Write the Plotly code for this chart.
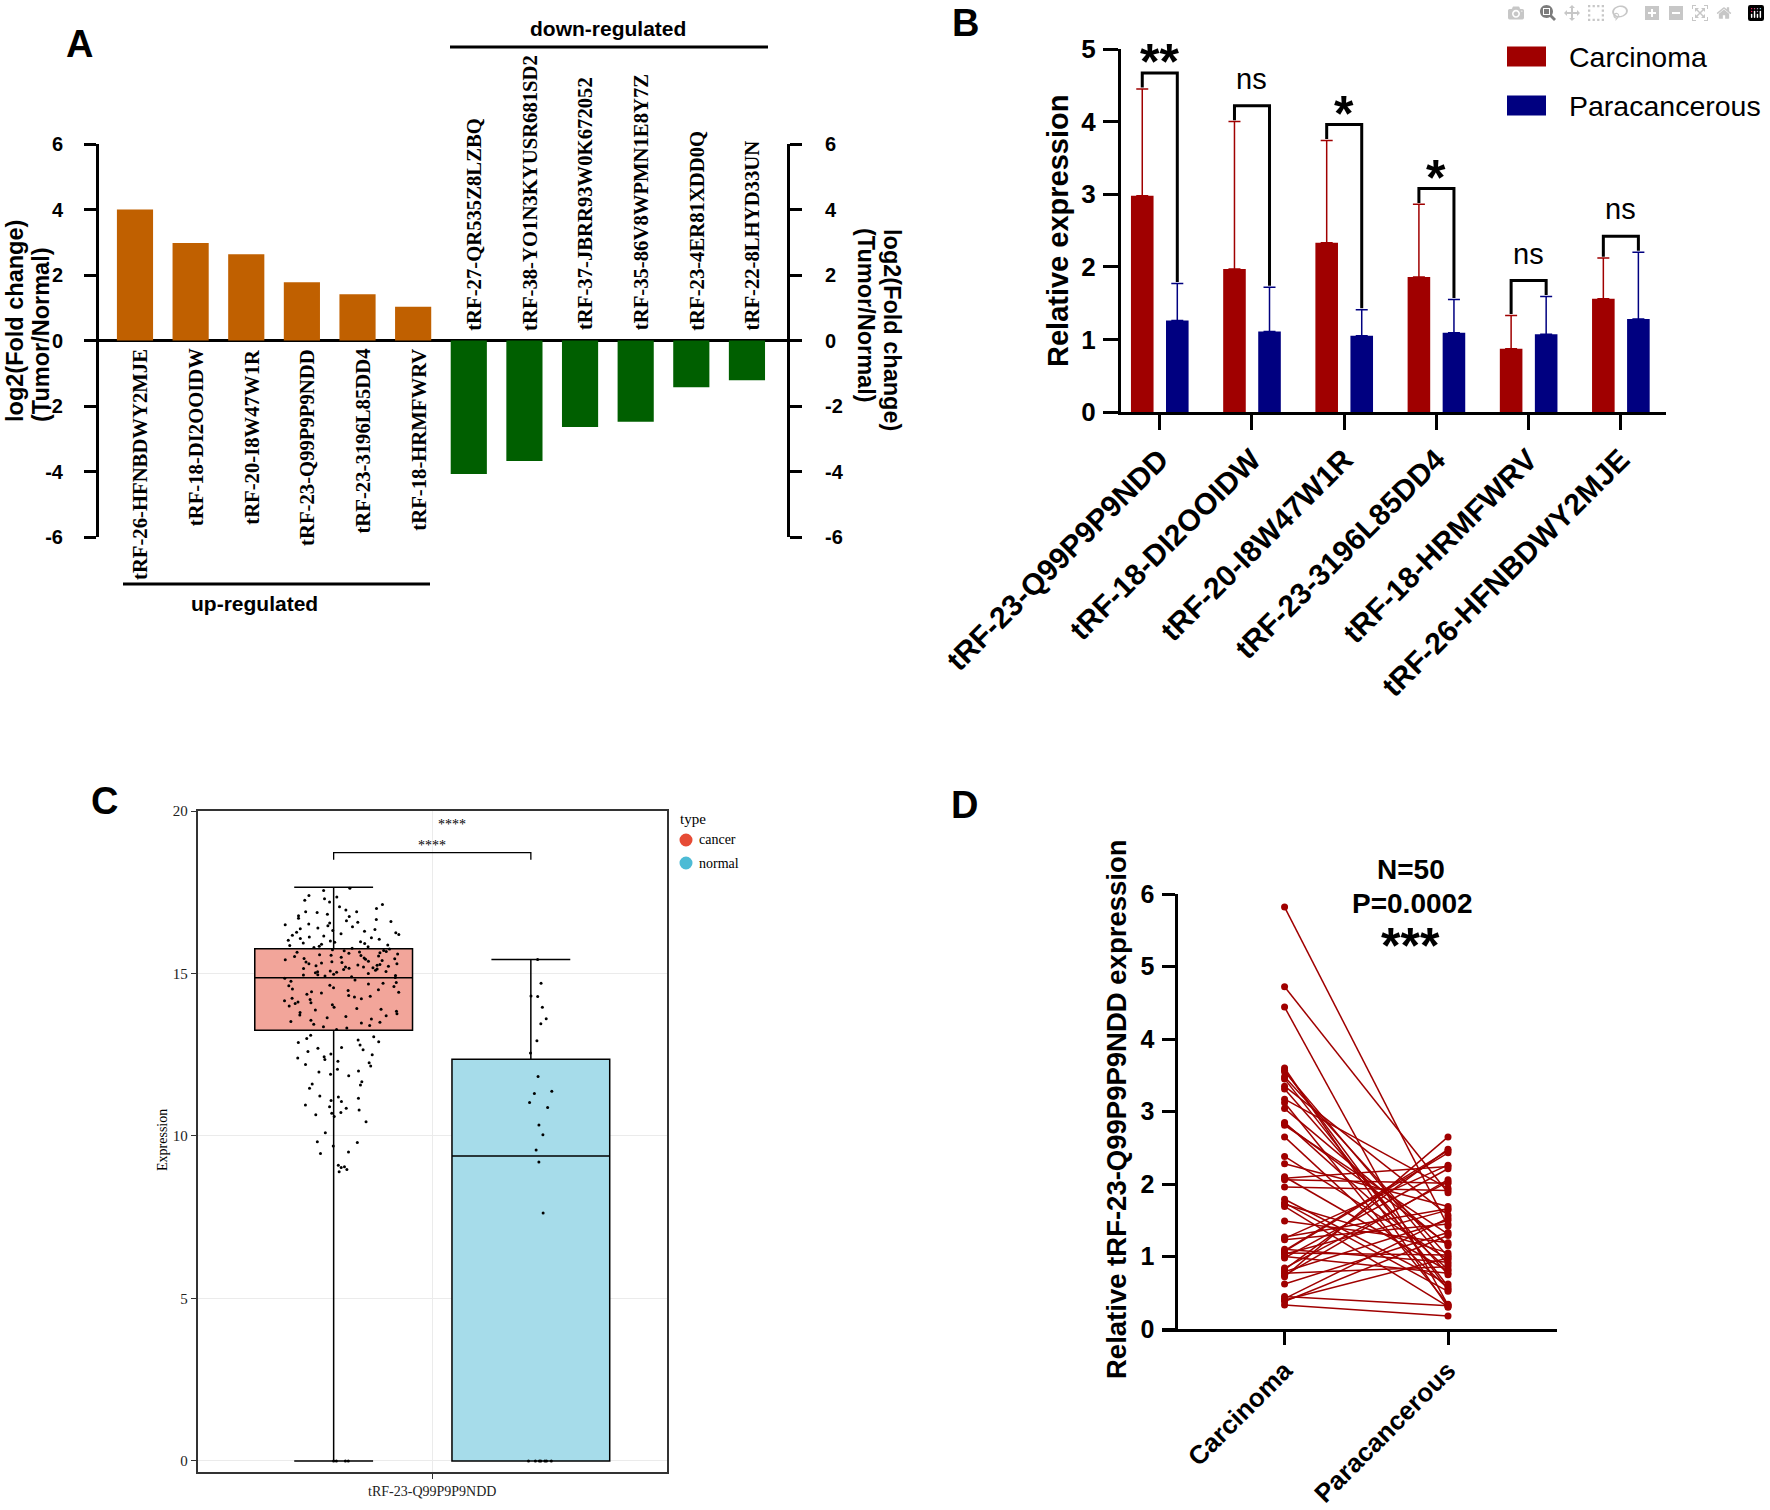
import plotly.graph_objects as go

W, H = 1770, 1510
def px(x): return x / W
def py(y): return 1 - y / H

SANS = "Liberation Sans, Arial, Helvetica, sans-serif"
SERIF = "Liberation Serif, Times New Roman, serif"

# ---------------- Panel A data ----------------
a_up_names = ["tRF-26-HFNBDWY2MJE", "tRF-18-DI2OOIDW", "tRF-20-I8W47W1R",
              "tRF-23-Q99P9P9NDD", "tRF-23-3196L85DD4", "tRF-18-HRMFWRV"]
a_up_values = [4.0, 2.98, 2.63, 1.78, 1.41, 1.03]
a_down_names = ["tRF-27-QR535Z8LZBQ", "tRF-38-YO1N3KYUSR681SD2", "tRF-37-JBRR93W0K672052",
                "tRF-35-86V8WPMN1E8Y7Z", "tRF-23-4ER81XDD0Q", "tRF-22-8LHYD33UN"]
a_down_values = [-4.08, -3.68, -2.64, -2.48, -1.43, -1.21]
a_ticks = [-6, -4, -2, 0, 2, 4, 6]
a_ticktext = [str(v) for v in a_ticks]

# ---------------- Panel B data ----------------
b_names = ["tRF-23-Q99P9P9NDD", "tRF-18-DI2OOIDW", "tRF-20-I8W47W1R",
           "tRF-23-3196L85DD4", "tRF-18-HRMFWRV", "tRF-26-HFNBDWY2MJE"]
b_carcinoma = [2.98, 1.97, 2.33, 1.86, 0.87, 1.56]
b_carcinoma_sd = [1.47, 2.03, 1.41, 1.00, 0.46, 0.56]
b_para = [1.26, 1.11, 1.05, 1.09, 1.07, 1.28]
b_para_sd = [0.51, 0.61, 0.36, 0.46, 0.52, 0.92]
b_sig = ["**", "ns", "*", "*", "ns", "ns"]
b_ticks = [0, 1, 2, 3, 4, 5]

# ---------------- Panel C data ----------------
c_category = "tRF-23-Q99P9P9NDD"
c_groups = ["cancer", "normal"]
c_q1 = [13.25, 0.0]
c_median = [14.87, 9.38]
c_q3 = [15.76, 12.36]
c_lowerfence = [0.0, 0.0]
c_upperfence = [17.65, 15.43]
c_cancer_points = [
    17.62, 17.55, 17.4, 17.35, 17.3, 17.25, 17.2, 17.12, 17.05, 17.0, 16.95, 16.9, 16.9,
    16.88, 16.82, 16.78, 16.75, 16.7, 16.66, 16.62, 16.6, 16.58, 16.55, 16.52, 16.5, 16.47,
    16.44, 16.4, 16.38, 16.35, 16.32, 16.3, 16.27, 16.25, 16.22, 16.2, 16.18, 16.15, 16.12,
    16.1, 16.08, 16.05, 16.02, 16.0, 15.98, 15.96, 15.94, 15.92, 15.9, 15.88, 15.86, 15.84,
    15.82, 15.8, 15.78,
    15.75, 15.73, 15.71, 15.7, 15.68, 15.66, 15.65, 15.64, 15.62, 15.6, 15.58, 15.56, 15.55,
    15.54, 15.52, 15.5, 15.48, 15.46, 15.45, 15.44, 15.42, 15.4, 15.38, 15.36, 15.35, 15.34,
    15.32, 15.3, 15.3, 15.28, 15.26, 15.25, 15.24, 15.22, 15.2, 15.2, 15.18, 15.16, 15.15,
    15.14, 15.12, 15.1, 15.08, 15.06, 15.05, 15.04, 15.02, 15.0, 14.98, 14.96, 14.95, 14.94,
    14.92, 14.9, 14.88,
    14.85, 14.8, 14.76, 14.72, 14.7, 14.68, 14.64, 14.62, 14.6, 14.56, 14.52, 14.5, 14.48,
    14.44, 14.42, 14.4, 14.36, 14.32, 14.3, 14.28, 14.24, 14.22, 14.2, 14.16, 14.12, 14.1,
    14.08, 14.04, 14.0, 13.96, 13.92, 13.9, 13.88, 13.84, 13.8, 13.76, 13.72, 13.7, 13.68,
    13.64, 13.6, 13.56, 13.52, 13.5, 13.48, 13.44, 13.4, 13.36, 13.32, 13.28,
    13.1, 13.05, 13.0, 12.95, 12.9, 12.88, 12.8, 12.72, 12.7, 12.65, 12.6, 12.52, 12.5,
    12.44, 12.4, 12.35, 12.3, 12.25, 12.2, 12.15, 12.05, 12.0, 11.97, 11.9, 11.85,
    11.67, 11.6, 11.57, 11.47, 11.23, 11.2, 11.16, 11.09, 11.06, 10.95, 10.9, 10.85, 10.8,
    10.72, 10.7, 10.65, 10.6, 10.44, 10.1, 9.82, 9.8, 9.69, 9.51, 9.46, 9.1, 9.05, 9.03,
    8.97, 8.9,
    0.0, 0.0, 0.0, 0.0,
]
c_normal_points = [15.43, 14.70, 14.31, 14.29, 13.96, 13.61, 13.45, 12.93, 12.55, 11.83,
                   11.38, 11.31, 11.03, 10.88, 10.34, 10.04, 9.57, 9.20, 7.63,
                   0.0, 0.0, 0.0, 0.0, 0.0, 0.0, 0.0]
c_ticks = [0, 5, 10, 15, 20]

# ---------------- Panel D data ----------------
d_groups = ["Carcinoma", "Paracancerous"]
d_carcinoma = [5.82, 4.72, 4.44, 3.60, 3.57, 3.55, 3.48, 3.45, 3.35, 3.31,
               3.17, 3.12, 3.04, 2.85, 2.81, 2.65, 2.38, 2.28, 2.10, 2.06,
               1.96, 1.79, 1.74, 1.72, 1.69, 1.49, 1.25, 1.23, 1.10, 1.07,
               1.05, 1.03, 1.00, 0.98, 0.82, 0.79, 0.77, 0.72, 0.62, 0.45,
               0.42, 0.40, 0.38, 0.33, 2.83, 1.08, 0.84, 1.27, 2.08, 0.74]
d_para = [1.42, 1.88, 0.33, 0.30, 0.54, 0.89, 1.00, 0.59, 1.57, 0.75,
          1.94, 0.34, 1.15, 0.82, 1.31, 0.56, 0.96, 1.69, 0.80, 2.01,
          1.91, 0.62, 0.52, 1.05, 0.31, 1.19, 2.26, 1.45, 0.92, 2.43,
          1.02, 1.64, 0.77, 2.21, 2.48, 1.50, 0.86, 2.65, 1.33, 0.32,
          1.53, 0.98, 1.29, 0.18, 1.17, 2.46, 2.03, 1.66, 2.24, 2.06]
d_ticks = [0, 1, 2, 3, 4, 5, 6]

ORANGE = "#C06000"
GREEN = "#005F00"
RED = "#A00000"
NAVY = "#000080"
C_RED = "#E64B35"
C_BLUE = "#4DBBD5"

fig = go.Figure()

# ---------------- Panel A traces ----------------
fig.add_trace(go.Bar(x=a_up_names, y=a_up_values, width=0.65, offset=-0.325,
                     marker=dict(color=ORANGE, line=dict(width=0)),
                     xaxis="x", yaxis="y"))
fig.add_trace(go.Bar(x=a_down_names, y=a_down_values, width=0.65, offset=-0.325,
                     marker=dict(color=GREEN, line=dict(width=0)),
                     xaxis="x", yaxis="y2"))

# ---------------- Panel B traces ----------------
BW = 0.245
OFF_C = -0.312
OFF_P = 0.068
fig.add_trace(go.Bar(x=b_names, y=b_carcinoma, width=BW, offset=OFF_C,
                     marker=dict(color=RED, line=dict(width=0)),
                     error_y=dict(type="data", symmetric=False, array=b_carcinoma_sd,
                                  arrayminus=[0] * len(b_carcinoma), color=RED,
                                  thickness=1.5, width=6),
                     xaxis="x2", yaxis="y3"))
fig.add_trace(go.Bar(x=b_names, y=b_para, width=BW, offset=OFF_P,
                     marker=dict(color=NAVY, line=dict(width=0)),
                     error_y=dict(type="data", symmetric=False, array=b_para_sd,
                                  arrayminus=[0] * len(b_para), color=NAVY,
                                  thickness=1.5, width=6),
                     xaxis="x2", yaxis="y3"))

# ---------------- Panel C traces ----------------
c_fill = ["#F2A59A", "#A6DCEA"]
for i, g in enumerate(c_groups):
    fig.add_trace(go.Box(x=[c_category], q1=[c_q1[i]], median=[c_median[i]], q3=[c_q3[i]],
                         lowerfence=[c_lowerfence[i]], upperfence=[c_upperfence[i]],
                         fillcolor=c_fill[i], line=dict(color="black", width=1.5),
                         whiskerwidth=0.5, boxpoints=False, offsetgroup=g, name=g,
                         xaxis="x3", yaxis="y4"))
for g, pts, jit, pos in [("cancer", c_cancer_points, 0.75, 0.1),
                         ("normal", c_normal_points, 0.25, 0.13)]:
    fig.add_trace(go.Box(x=[c_category] * len(pts), y=pts, boxpoints="all", jitter=jit,
                         pointpos=pos, fillcolor="rgba(0,0,0,0)",
                         line=dict(color="rgba(0,0,0,0)", width=0),
                         marker=dict(color="black", size=3), offsetgroup=g, name=g,
                         xaxis="x3", yaxis="y4"))

# ---------------- Panel D traces ----------------
dx, dy = [], []
for c, p in zip(d_carcinoma, d_para):
    dx += [d_groups[0], d_groups[1], None]
    dy += [c, p, None]
fig.add_trace(go.Scatter(x=dx, y=dy, mode="lines+markers",
                         line=dict(color=RED, width=1.5),
                         marker=dict(color=RED, size=7),
                         connectgaps=False, xaxis="x4", yaxis="y5"))

# ---------------- Layout ----------------
def bold_axis_font(s):
    return dict(family=SANS, size=s, color="black", weight="bold")

layout = dict(
    template="none",
    width=W, height=H, margin=dict(l=0, r=0, t=0, b=0, autoexpand=False),
    paper_bgcolor="white", plot_bgcolor="white", showlegend=False,
    barmode="overlay", boxmode="group", boxgap=0.16, boxgroupgap=0.2,
    hovermode=False,
    # Panel A
    xaxis=dict(domain=[px(99), px(787)], range=[-0.647, 11.72], type="category",
               categoryorder="array", categoryarray=a_up_names + a_down_names,
               showticklabels=False, ticks="", showline=False, showgrid=False,
               zeroline=False, anchor="y", automargin=False),
    yaxis=dict(domain=[py(537), py(144)], range=[-6, 6], tickvals=a_ticks,
               ticktext=a_ticktext,
               showline=True, linewidth=3, linecolor="black", ticks="outside",
               ticklen=12, tickwidth=3, tickcolor="black", showgrid=False,
               zeroline=True, zerolinewidth=3, zerolinecolor="black",
               tickfont=bold_axis_font(20), ticklabelstandoff=17, anchor="x",
               layer="above traces", automargin=False),
    yaxis2=dict(range=[-6, 6], tickvals=a_ticks, ticktext=a_ticktext,
                overlaying="y", side="right", anchor="x",
                showline=True, linewidth=3, linecolor="black", ticks="outside",
                ticklen=12, tickwidth=3, tickcolor="black", showgrid=False,
                zeroline=False, tickfont=bold_axis_font(20), ticklabelstandoff=19,
                layer="above traces", automargin=False),
    # Panel B
    xaxis2=dict(domain=[px(1121), px(1666)], range=[-0.42, 5.49], type="category",
                showline=True, linewidth=3, linecolor="black", ticks="outside",
                ticklen=15, tickwidth=3, tickcolor="black", showgrid=False,
                zeroline=False, tickangle=-45, tickfont=bold_axis_font(30),
                anchor="y3", layer="above traces", automargin=False),
    yaxis3=dict(domain=[py(412), py(49)], range=[0, 5], tickvals=b_ticks,
                showline=True, linewidth=3, linecolor="black", ticks="outside",
                ticklen=15, tickwidth=3, tickcolor="black", showgrid=False,
                zeroline=False, tickfont=bold_axis_font(26), ticklabelstandoff=2,
                anchor="x2", automargin=False),
    # Panel C
    xaxis3=dict(domain=[px(197.5), px(667)], range=[-0.5, 0.5], type="category",
                showline=True, linewidth=1.5, linecolor="#333333", mirror=True,
                ticks="outside", ticklen=5, tickcolor="#333333", showgrid=True,
                gridcolor="#EBEBEB", gridwidth=1, zeroline=False,
                tickfont=dict(family=SERIF, size=14, color="#222222"), anchor="y4",
                automargin=False),
    yaxis4=dict(domain=[py(1472), py(811)], range=[-0.34, 20], tickvals=c_ticks,
                showline=True, linewidth=1.5, linecolor="#333333", mirror=True,
                ticks="outside", ticklen=5, tickcolor="#333333", showgrid=True,
                gridcolor="#EBEBEB", gridwidth=1, zeroline=False,
                tickfont=dict(family=SERIF, size=15, color="#222222"), anchor="x3",
                automargin=False),
    # Panel D
    xaxis4=dict(domain=[px(1162), px(1557)], range=[-0.75, 1.667], type="category",
                categoryorder="array", categoryarray=d_groups,
                showline=True, linewidth=3, linecolor="black", ticks="outside",
                ticklen=13, tickwidth=3, tickcolor="black", showgrid=False,
                zeroline=False, tickangle=-45, tickfont=bold_axis_font(26), anchor="y5",
                automargin=False),
    yaxis5=dict(domain=[py(1329), py(894)], range=[0, 6], tickvals=d_ticks,
                showline=True, linewidth=3, linecolor="black", ticks="outside",
                ticklen=13, tickwidth=3, tickcolor="black", showgrid=False,
                zeroline=False, tickfont=bold_axis_font(25), ticklabelstandoff=2,
                anchor="free", position=px(1175.5), automargin=False),
)
fig.update_layout(**layout)

ann = []
shapes = []

def paper_text(x, y, text, size, family=SANS, xanchor="center", yanchor="middle", angle=0, color="black"):
    ann.append(dict(x=px(x), y=py(y), xref="paper", yref="paper", text=text, showarrow=False,
                    xanchor=xanchor, yanchor=yanchor, textangle=angle,
                    font=dict(family=family, size=size, color=color)))

# Panel letters
paper_text(79, 44, "<b>A</b>", 38)
paper_text(965, 23, "<b>B</b>", 38)
paper_text(104, 801, "<b>C</b>", 38)
paper_text(964, 805, "<b>D</b>", 38)

# Panel A labels
for n in a_up_names:
    ann.append(dict(x=n, y=0, xref="x", yref="y", text=f"<b>{n}</b>", showarrow=False,
                    textangle=-90, xanchor="center", yanchor="top", yshift=-6, xshift=5,
                    font=dict(family=SERIF, size=20.7, color="black")))
for n in a_down_names:
    ann.append(dict(x=n, y=0, xref="x", yref="y", text=f"<b>{n}</b>", showarrow=False,
                    textangle=-90, xanchor="center", yanchor="bottom", yshift=8, xshift=5,
                    font=dict(family=SERIF, size=20.7, color="black")))
# y titles of panel A (two lines each)
paper_text(15, 321, "<b>log2(Fold change)</b>", 23.5, angle=-90)
paper_text(41, 335, "<b>(Tumor/Normal)</b>", 23.5, angle=-90)
paper_text(892, 330, "<b>log2(Fold change)</b>", 23.5, angle=90)
paper_text(866, 315, "<b>(Tumor/Normal)</b>", 23.5, angle=90)
paper_text(254, 603, "<b>up-regulated</b>", 21)
paper_text(608, 28, "<b>down-regulated</b>", 21)
shapes.append(dict(type="line", xref="paper", yref="paper", x0=px(123), x1=px(430),
                   y0=py(584), y1=py(584), line=dict(color="black", width=3)))
shapes.append(dict(type="line", xref="paper", yref="paper", x0=px(450), x1=px(768),
                   y0=py(47), y1=py(47), line=dict(color="black", width=3)))

# Panel B brackets / significance
centre_c = OFF_C + BW / 2
centre_p = OFF_P + BW / 2
for i in range(len(b_names)):
    lb = b_carcinoma[i] + b_carcinoma_sd[i]
    rb = b_para[i] + b_para_sd[i]
    top = max(lb, rb) + 0.22
    xl, xr = i + centre_c, i + centre_p
    shapes.append(dict(type="path", xref="x2", yref="y3",
                       path=f"M {xl},{lb + 0.02} L {xl},{top} L {xr},{top} L {xr},{rb + 0.02}",
                       line=dict(color="black", width=3)))
    s = b_sig[i]
    if s == "ns":
        ann.append(dict(x=i, y=top + 0.37, xref="x2", yref="y3", text="ns", showarrow=False,
                        xanchor="center", yanchor="middle",
                        font=dict(family=SANS, size=29, color="black")))
    else:
        ann.append(dict(x=i, y=top + 0.15, xref="x2", yref="y3", text=f"<b>{s}</b>",
                        showarrow=False, xanchor="center", yanchor="middle",
                        font=dict(family=SANS, size=50, color="black")))
paper_text(1058, 231, "<b>Relative expression</b>", 29, angle=-90)
# legend B
for (label, col, yc) in [("Carcinoma", RED, 56.5), ("Paracancerous", NAVY, 105.5)]:
    shapes.append(dict(type="rect", xref="paper", yref="paper", x0=px(1507), x1=px(1546),
                       y0=py(yc + 10), y1=py(yc - 10), fillcolor=col, line=dict(width=0)))
    paper_text(1567, yc, label, 28.5, xanchor="left")

# Panel C annotations
slot = (1 - 0.16) / 2
cx_c, cx_n = -slot / 2, slot / 2
shapes.append(dict(type="path", xref="x3", yref="y4",
                   path=f"M {cx_c},18.5 L {cx_c},18.72 L {cx_n},18.72 L {cx_n},18.5",
                   line=dict(color="black", width=1.3)))
ann.append(dict(x=0, y=18.95, xref="x3", yref="y4", text="****", showarrow=False,
                xanchor="center", yanchor="middle", font=dict(family=SERIF, size=14, color="black")))
ann.append(dict(x=0.043, y=19.6, xref="x3", yref="y4", text="****", showarrow=False,
                xanchor="center", yanchor="middle", font=dict(family=SERIF, size=14, color="black")))
paper_text(162, 1140, "Expression", 14, family=SERIF, angle=-90)
paper_text(678, 819, "type", 15, family=SERIF, xanchor="left")
for (label, col, yc) in [("cancer", C_RED, 840), ("normal", C_BLUE, 863)]:
    shapes.append(dict(type="circle", xref="paper", yref="paper", x0=px(679.5), x1=px(692.5),
                       y0=py(yc + 6.5), y1=py(yc - 6.5), fillcolor=col, line=dict(width=0)))
    paper_text(697, yc, label, 14, family=SERIF, xanchor="left")

# Panel D annotations
paper_text(1411, 870, "<b>N=50</b>", 28)
paper_text(1412, 903, "<b>P=0.0002</b>", 28)
paper_text(1410, 946, "<b>***</b>", 50)
paper_text(1116, 1109, "<b>Relative tRF-23-Q99P9P9NDD expression</b>", 27.5, angle=-90)

fig.update_layout(annotations=ann, shapes=shapes)
fig.write_html("out.html", post_script="document.body.style.margin='0';")
